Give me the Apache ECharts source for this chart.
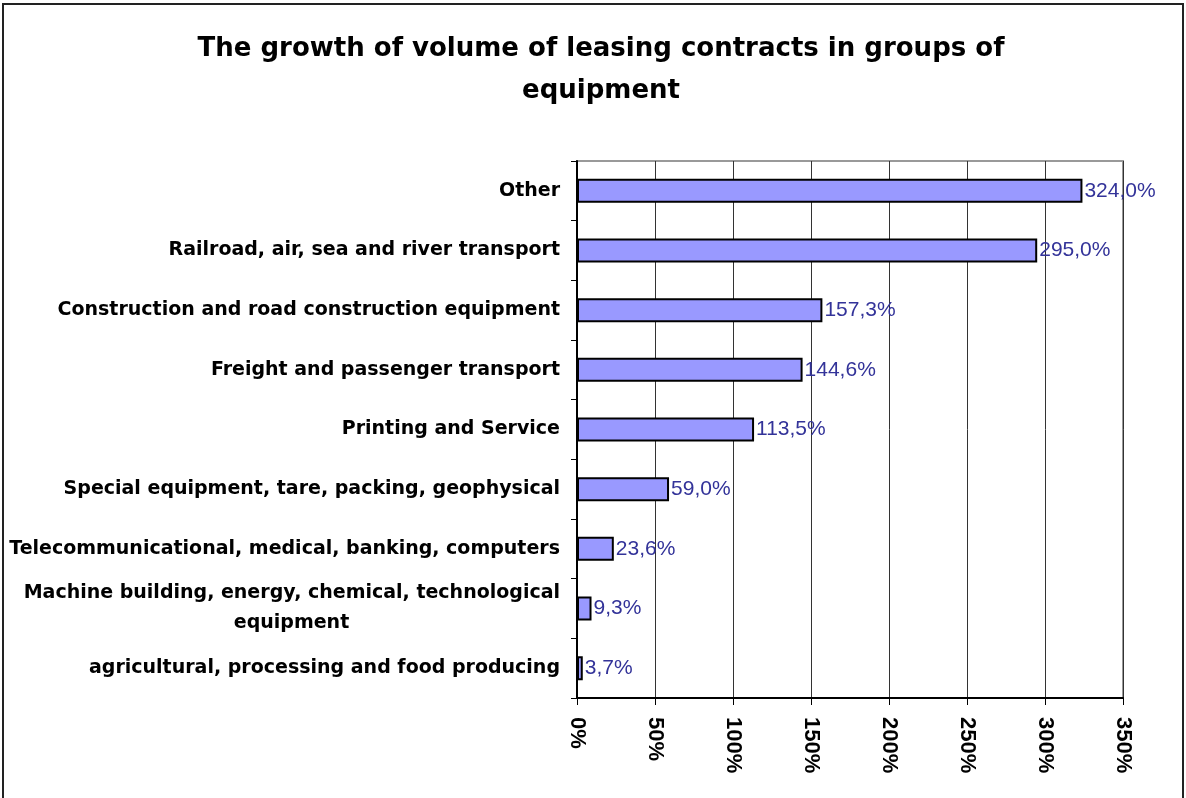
<!DOCTYPE html>
<html>
<head>
<meta charset="utf-8">
<script src="https://cdn.jsdelivr.net/npm/echarts@6/dist/echarts.min.js"></script>
<style>
html,body{margin:0;padding:0;background:#fff;}
#frame{position:absolute;left:2px;top:3px;width:1182px;height:800px;border:2px solid #222;box-sizing:border-box;}
#chart{position:absolute;left:0;top:0;width:1186px;height:798px;}
</style>
</head>
<body>
<div id="frame"></div>
<div id="chart"></div>
<script>
const titleText = 'The growth of volume of leasing contracts in groups of\nequipment';
const categories = [
  'Other',
  'Railroad, air, sea and river transport',
  'Construction and road construction equipment',
  'Freight and passenger transport',
  'Printing and Service',
  'Special equipment, tare, packing, geophysical',
  'Telecommunicational, medical, banking, computers',
  'Machine building, energy, chemical, technological\nequipment',
  'agricultural, processing and food producing'
];
const growthValues = [324.0, 295.0, 157.3, 144.6, 113.5, 59.0, 23.6, 9.3, 3.7];
const xTickMin = 0, xTickMax = 350, xTickStep = 50;

const catFont = {fontFamily:'DejaVu Sans', fontWeight:'bold', fontSize:19, color:'#000', lineHeight:30};
const mctx = document.createElement('canvas').getContext('2d');
mctx.font = 'bold 19px "DejaVu Sans"';
let maxFirstLine = 0;
categories.forEach(c => {
  if (c.indexOf('\n') >= 0) {
    maxFirstLine = Math.max(maxFirstLine, mctx.measureText(c.split('\n')[0]).width);
  }
});

const chart = echarts.init(document.getElementById('chart'), null, {renderer:'canvas'});
chart.setOption({
  animation:false,
  backgroundColor:'transparent',
  title:{
    text:titleText,
    left:596, top:23, textAlign:'center',
    textStyle:{fontFamily:'DejaVu Sans', fontWeight:'bold', fontSize:26, color:'#000', lineHeight:42}
  },
  grid:{left:577, right:63, top:161, bottom:100, show:true, borderColor:'#999', borderWidth:2, backgroundColor:'transparent'},
  xAxis:{
    type:'value', min:xTickMin, max:xTickMax, interval:xTickStep,
    axisLine:{show:true, lineStyle:{color:'#000', width:2}},
    axisTick:{show:true, length:7, lineStyle:{color:'#000', width:1}},
    splitLine:{show:true, lineStyle:{color:'#333', width:1}},
    axisLabel:{
      rotate:-90, margin:19,
      formatter:v=>v+'%',
      fontFamily:'Liberation Sans, Arial', fontWeight:'bold', fontSize:22, color:'#000'
    }
  },
  yAxis:{
    type:'category', data:categories, inverse:true,
    axisLine:{show:true, lineStyle:{color:'#000', width:2}},
    axisTick:{show:true, length:6, alignWithLabel:false, lineStyle:{color:'#000', width:1}},
    axisLabel:Object.assign({
      margin:17, align:'right',
      formatter:v=>{
        if (v.indexOf('\n') < 0) return v;
        const parts = v.split('\n');
        return '{a|' + parts[0] + '}\n{b|' + parts[1] + '}';
      },
      rich:{
        a:Object.assign({}, catFont),
        b:Object.assign({width:Math.ceil(maxFirstLine), align:'center'}, catFont)
      }
    }, catFont)
  },
  series:[{
    type:'bar', data:growthValues, barWidth:24,
    itemStyle:{color:'#9999FF', borderColor:'#000', borderWidth:2},
    label:{
      show:true, position:'right', distance:2,
      formatter:p=>p.value.toFixed(1).replace('.', ',')+'%',
      fontFamily:'Liberation Sans, Arial', fontSize:21, color:'#333399'
    }
  }]
});
</script>
</body>
</html>
